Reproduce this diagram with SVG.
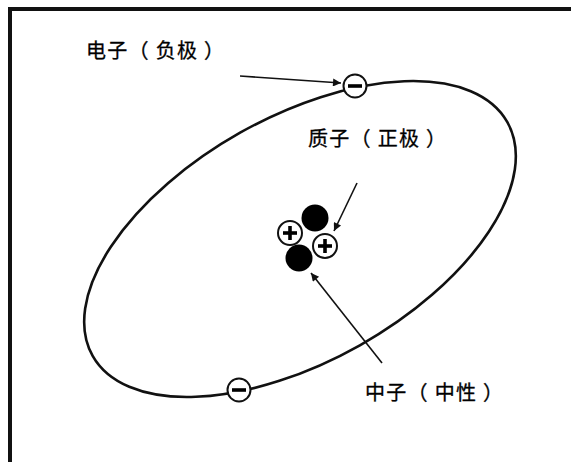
<svg xmlns="http://www.w3.org/2000/svg" width="571" height="462" viewBox="0 0 571 462">
  <style>
    .frame { stroke: #111; stroke-width: 4; fill: none; }
    .orbit { stroke: #111; stroke-width: 2.6; fill: none; }
    .electron { fill: #fff; stroke: #111; stroke-width: 2; }
    .proton { fill: #fff; stroke: #111; stroke-width: 2; }
    .neutron { fill: #000; }
    .sign { stroke: #000; stroke-width: 3.6; stroke-linecap: butt; }
    .lead { stroke: #111; stroke-width: 1.6; fill: none; marker-end: url(#tip); }
    .label { font-family: "Noto Sans CJK SC", "Noto Sans", sans-serif; font-size: 20px; letter-spacing: 1.3px; fill: #000; stroke: #000; stroke-width: 0.3; }
  </style>
  <defs>
    <marker id="tip" viewBox="0 0 10 10" refX="10" refY="5" markerWidth="7" markerHeight="5" markerUnits="strokeWidth" orient="auto">
      <path d="M0,0 L10,5 L0,10 z" fill="#111"/>
    </marker>
  </defs>

  <rect width="571" height="462" fill="#fff"/>

  <!-- frame: top and left edges only -->
  <path class="frame" d="M10,462 V9 H571"/>

  <!-- electron orbit -->
  <ellipse class="orbit" cx="300" cy="239" rx="238" ry="122" transform="rotate(-29.4 300 239)"/>

  <!-- connectors -->
  <g id="connectors">
    <line class="lead" x1="240" y1="76" x2="341" y2="83"/>
    <line class="lead" x1="357" y1="183" x2="334" y2="231"/>
    <line class="lead" x1="382" y1="363" x2="311" y2="273"/>
  </g>

  <!-- electrons -->
  <g id="electron-top">
    <circle class="electron" cx="355" cy="86" r="11.5"/>
    <line class="sign" x1="348" y1="86" x2="362" y2="86"/>
  </g>
  <g id="electron-bottom">
    <circle class="electron" cx="239" cy="390" r="11.5"/>
    <line class="sign" x1="232" y1="390" x2="246" y2="390"/>
  </g>

  <!-- nucleus -->
  <g id="nucleus">
    <circle class="neutron" cx="315" cy="218" r="13.5"/>
    <circle class="neutron" cx="299" cy="258" r="13.5"/>
    <g id="proton-left">
      <circle class="proton" cx="290" cy="233" r="12"/>
      <line class="sign" x1="283" y1="233" x2="297" y2="233"/>
      <line class="sign" x1="290" y1="226" x2="290" y2="240"/>
    </g>
    <g id="proton-right">
      <circle class="proton" cx="325" cy="246" r="12"/>
      <line class="sign" x1="318" y1="246" x2="332" y2="246"/>
      <line class="sign" x1="325" y1="239" x2="325" y2="253"/>
    </g>
  </g>

  <!-- labels -->
  <g id="label-electron"><text class="label" x="86" y="58" xml:space="preserve">电子（ 负极 ）</text></g>
  <g id="label-proton"><text class="label" x="308" y="146" xml:space="preserve">质子（ 正极 ）</text></g>
  <g id="label-neutron"><text class="label" x="365" y="400" xml:space="preserve">中子（ 中性 ）</text></g>
</svg>
